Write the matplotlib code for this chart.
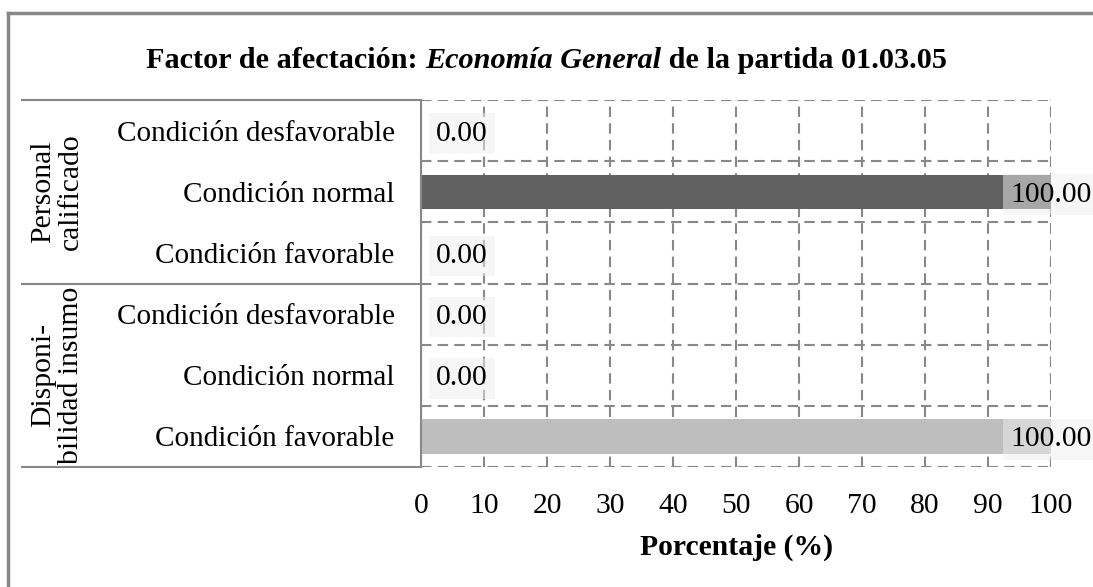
import numpy as np
import matplotlib.pyplot as plt
from matplotlib.lines import Line2D

plt.rcParams['font.family'] = ['Liberation Serif', 'DejaVu Serif']

# datos
grupos = ['Personal\ncalificado', 'Disponi-\nbilidad insumo']
condiciones = ['Condición desfavorable', 'Condición normal', 'Condición favorable',
               'Condición desfavorable', 'Condición normal', 'Condición favorable']
valores = [0.00, 100.00, 0.00, 0.00, 0.00, 100.00]
colores = ['#606060', '#606060', '#606060', '#bebebe', '#bebebe', '#bebebe']
ticks_x = [0, 10, 20, 30, 40, 50, 60, 70, 80, 90, 100]

W, H = 1093, 587
fig = plt.figure(figsize=(W / 100, H / 100), dpi=100)
ax = fig.add_axes([421 / W, 1 - 467 / H, 630 / W, 367 / H])

gris = '#888888'
fs = 21.3

y = np.arange(len(condiciones))
ax.barh(y, valores, height=0.56, color=colores, zorder=3)
ax.set_xlim(0, 100)
ax.set_ylim(len(condiciones) - 0.5, -0.5)

ax.set_xticks(ticks_x)
ax.set_xticklabels([str(t) for t in ticks_x], fontsize=fs)
ax.set_yticks(y)
ax.set_yticklabels(condiciones, fontsize=21, va='center_baseline')
ax.set_yticks(np.arange(-0.5, len(condiciones), 1), minor=True)
ax.tick_params(axis='both', which='both', length=0)
ax.tick_params(axis='y', pad=19)
ax.tick_params(axis='x', pad=19)

ax.grid(axis='x', which='major', color=gris, linestyle=(0, (5, 3)), linewidth=1.5, zorder=0)
ax.grid(axis='y', which='minor', color=gris, linestyle=(0, (5, 3)), linewidth=1.5, zorder=0)
for s in ['top', 'right', 'bottom']:
    ax.spines[s].set_visible(False)
ax.spines['left'].set_color(gris)
ax.spines['left'].set_linewidth(1.5)
ax.spines['left'].set_zorder(4)
ax.axvline(100, color=gris, linestyle=(0, (5, 3)), linewidth=1.5, zorder=0)

ax.set_xlabel('Porcentaje (%)', fontsize=fs, fontweight='bold', labelpad=10)

# etiquetas de valor
caja = dict(boxstyle='square,pad=0.25', fc='#eeeeee', ec='none', alpha=0.5)
for yi, v in zip(y, valores):
    if v >= 50:
        ax.annotate(f'{v:.2f}', (v, yi), ha='center', va='center_baseline', fontsize=fs,
                    bbox=caja, zorder=5, annotation_clip=False)
    else:
        ax.annotate(f'{v:.2f}', (v, yi), xytext=(15, 0), textcoords='offset pixels',
                    ha='left', va='center_baseline', fontsize=fs,
                    bbox=caja, zorder=5, annotation_clip=False)

# lineas de la tabla a la izquierda
tr = ax.get_yaxis_transform()
x0 = (22 - 421) / 630
for yl in [-0.5, 2.5, 5.5]:
    ax.plot([x0, 0], [yl, yl], color=gris, linewidth=1.5, transform=tr, clip_on=False)

xg = (57 - 421) / 630
for i, g in enumerate(grupos):
    ax.text(xg, 3 * i + 1, g, rotation=90, ha='center', va='center', fontsize=fs,
            linespacing=1.12, transform=tr, multialignment='center')

# titulo con parte en cursiva
partes = [('Factor de afectación: ', 'normal'), ('Economía General', 'italic'),
          (' de la partida 01.03.05', 'normal')]
ty = 1 - 58 / H
textos = [fig.text(0, ty, p, fontsize=21.8, fontweight='bold', style=st, va='center_baseline')
          for p, st in partes]
fig.canvas.draw()
r = fig.canvas.get_renderer()
anchos = [t.get_window_extent(r).width for t in textos]
x = (W - sum(anchos)) / 2
for t, a in zip(textos, anchos):
    t.set_x(x / W)
    x += a

# marco exterior
fig.add_artist(Line2D([8 / W, 1], [1 - 13 / H, 1 - 13 / H], color=gris, linewidth=2.5,
                      transform=fig.transFigure))
fig.add_artist(Line2D([8 / W, 8 / W], [0, 1 - 13 / H], color=gris, linewidth=2.5,
                      transform=fig.transFigure))

fig.savefig('out.png', dpi=100)
